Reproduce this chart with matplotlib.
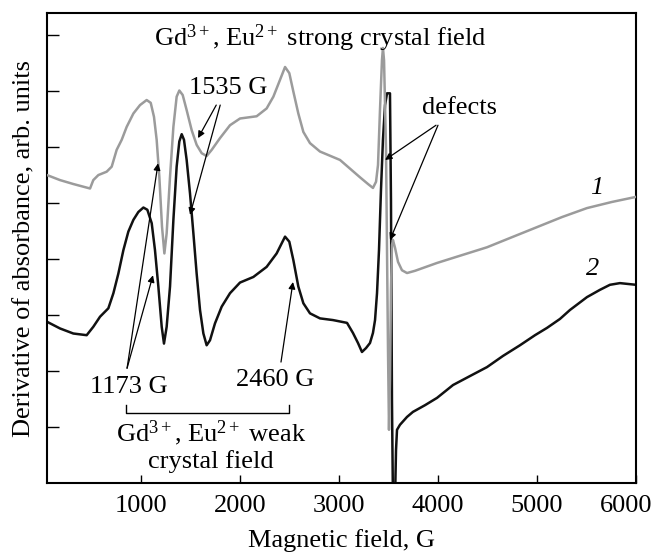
import matplotlib
matplotlib.use('Agg')
import matplotlib.pyplot as plt
from matplotlib.transforms import ScaledTranslation

plt.rcParams['font.family'] = ['Liberation Serif', 'DejaVu Serif']
plt.rcParams['mathtext.fontset'] = 'custom'
plt.rcParams['mathtext.rm'] = 'Liberation Serif'
plt.rcParams['mathtext.it'] = 'Liberation Serif:italic'

# curve 1 (gray) - magnetic field, G and derivative signal, arb. units
field_1 = [50, 182, 316, 485, 518, 569, 653, 704, 754, 805, 855, 923, 990,
           1057, 1098, 1131, 1158, 1185, 1212, 1236, 1259, 1293, 1327, 1360,
           1387, 1421, 1461, 1512, 1562, 1613, 1663, 1714, 1798, 1899, 2000,
           2168, 2269, 2337, 2404, 2455, 2498, 2539, 2589, 2640, 2707, 2808,
           3010, 3212, 3293, 3343, 3374, 3394, 3414, 3434, 3444, 3455, 3475,
           3495, 3505, 3515, 3525, 3535, 3545, 3566, 3596, 3636, 3687, 3768,
           3990, 4242, 4495, 4747, 5000, 5253, 5505, 5758, 6000]
signal_1 = [5.50, 5.41, 5.34, 5.26, 5.41, 5.50, 5.56, 5.65, 5.95, 6.13, 6.36,
            6.60, 6.75, 6.84, 6.79, 6.54, 6.13, 5.47, 4.58, 4.10, 4.46, 5.47,
            6.36, 6.90, 7.01, 6.93, 6.66, 6.30, 6.04, 5.89, 5.84, 5.95, 6.16,
            6.39, 6.51, 6.55, 6.69, 6.90, 7.20, 7.43, 7.32, 6.99, 6.60, 6.27,
            6.07, 5.92, 5.77, 5.46, 5.34, 5.27, 5.38, 5.68, 6.66, 7.55, 7.77,
            7.55, 5.95, 2.38, 0.95, 1.84, 3.45, 4.25, 4.34, 4.20, 3.95, 3.80,
            3.75, 3.79, 3.93, 4.07, 4.21, 4.39, 4.57, 4.75, 4.91, 5.02, 5.11]

# curve 2 (black)
field_2 = [50, 182, 316, 451, 518, 586, 670, 721, 771, 822, 872, 923, 973,
           1024, 1064, 1108, 1141, 1175, 1209, 1232, 1259, 1293, 1327, 1360,
           1387, 1411, 1434, 1461, 1495, 1529, 1562, 1596, 1630, 1663, 1697,
           1747, 1815, 1899, 2000, 2135, 2269, 2370, 2455, 2498, 2539, 2589,
           2640, 2707, 2808, 2939, 3081, 3141, 3192, 3232, 3273, 3313, 3343,
           3364, 3384, 3404, 3424, 3444, 3465, 3485, 3515, 3525, 3535, 3545,
           3566, 3576, 3586, 3616, 3687, 3747, 3869, 3990, 4152, 4323, 4495,
           4657, 4828, 4980, 5101, 5232, 5333, 5505, 5636, 5737, 5838, 6000]
signal_2 = [2.88, 2.76, 2.67, 2.64, 2.79, 2.97, 3.12, 3.39, 3.74, 4.16, 4.49,
            4.70, 4.84, 4.92, 4.88, 4.64, 4.16, 3.51, 2.79, 2.49, 2.79, 3.51,
            4.70, 5.65, 6.10, 6.23, 6.13, 5.77, 5.17, 4.46, 3.74, 3.09, 2.67,
            2.46, 2.55, 2.85, 3.15, 3.39, 3.58, 3.68, 3.86, 4.10, 4.40, 4.31,
            3.98, 3.51, 3.21, 3.03, 2.94, 2.91, 2.86, 2.68, 2.50, 2.34, 2.41,
            2.50, 2.68, 2.91, 3.39, 4.16, 5.23, 6.13, 6.75, 6.96, 6.96, 5.05,
            1.48, -0.30, -0.30, 0.59, 0.95, 1.04, 1.18, 1.27, 1.39, 1.52, 1.75,
            1.91, 2.07, 2.27, 2.46, 2.64, 2.77, 2.93, 3.09, 3.32, 3.45, 3.54,
            3.57, 3.54]

xticks = [1000, 2000, 3000, 4000, 5000, 6000]
yticks = [1, 2, 3, 4, 5, 6, 7, 8]

fs = 19

fig = plt.figure(figsize=(6.57, 5.52), dpi=100)
ax = fig.add_axes([0.0715, 0.125, 0.8965, 0.851])

ax.plot(field_2, signal_2, color='#111111', lw=1.8, zorder=2)
ax.plot(field_1, signal_1, color='#9b9b9b', lw=1.8, zorder=3)

ax.set_xlim(50, 6000)
ax.set_ylim(0, 8.39)
ax.set_xticks(xticks)
ax.set_yticks(yticks)
ax.set_yticklabels([])
ax.tick_params(axis='x', direction='in', length=5.8, width=1.0, labelsize=fs, pad=9)
ax.tick_params(axis='y', direction='in', length=8.6, width=1.0)
for s in ax.spines.values():
    s.set_linewidth(1.5)

# keep the last tick label inside the picture
last = ax.get_xticklabels()[-1]
last.set_transform(last.get_transform() + ScaledTranslation(-7 / 72, 0, fig.dpi_scale_trans))

ax.set_xlabel('Magnetic field, G', fontsize=fs, labelpad=8)
ax.set_ylabel('Derivative of absorbance, arb. units', fontsize=fs, labelpad=5)

arr = dict(arrowstyle='-|>', color='black', lw=0.9, mutation_scale=10, shrinkA=0, shrinkB=0)

ax.text(2808, 7.95, 'Gd$^{3+}$, Eu$^{2+}$ strong crystal field', fontsize=fs,
        ha='center', va='center')

ax.text(1879, 7.05, '1535 G', fontsize=fs, ha='center', va='center')
ax.annotate('', xy=(1576, 6.16), xytext=(1760, 6.75), arrowprops=arr)
ax.annotate('', xy=(1495, 4.79), xytext=(1800, 6.75), arrowprops=arr)

ax.text(879, 1.71, '1173 G', fontsize=fs, ha='center', va='center')
ax.annotate('', xy=(1172, 5.71), xytext=(859, 2.05), arrowprops=arr)
ax.annotate('', xy=(1121, 3.71), xytext=(859, 2.05), arrowprops=arr)

ax.text(2354, 1.84, '2460 G', fontsize=fs, ha='center', va='center')
ax.annotate('', xy=(2535, 3.59), xytext=(2414, 2.16), arrowprops=arr)

ax.text(4222, 6.70, 'defects', fontsize=fs, ha='center', va='center')
ax.annotate('', xy=(3465, 5.77), xytext=(3980, 6.39), arrowprops=arr)
ax.annotate('', xy=(3515, 4.34), xytext=(4000, 6.39), arrowprops=arr)

ax.plot([848, 848, 2495, 2495], [1.39, 1.25, 1.25, 1.39], color='black', lw=1.0)
ax.text(1707, 0.89, 'Gd$^{3+}$, Eu$^{2+}$ weak', fontsize=fs, ha='center', va='center')
ax.text(1707, 0.39, 'crystal field', fontsize=fs, ha='center', va='center')

ax.text(5606, 5.27, '1', fontsize=fs, style='italic', ha='center', va='center')
ax.text(5566, 3.82, '2', fontsize=fs, style='italic', ha='center', va='center')

fig.savefig('out.png', dpi=100)
